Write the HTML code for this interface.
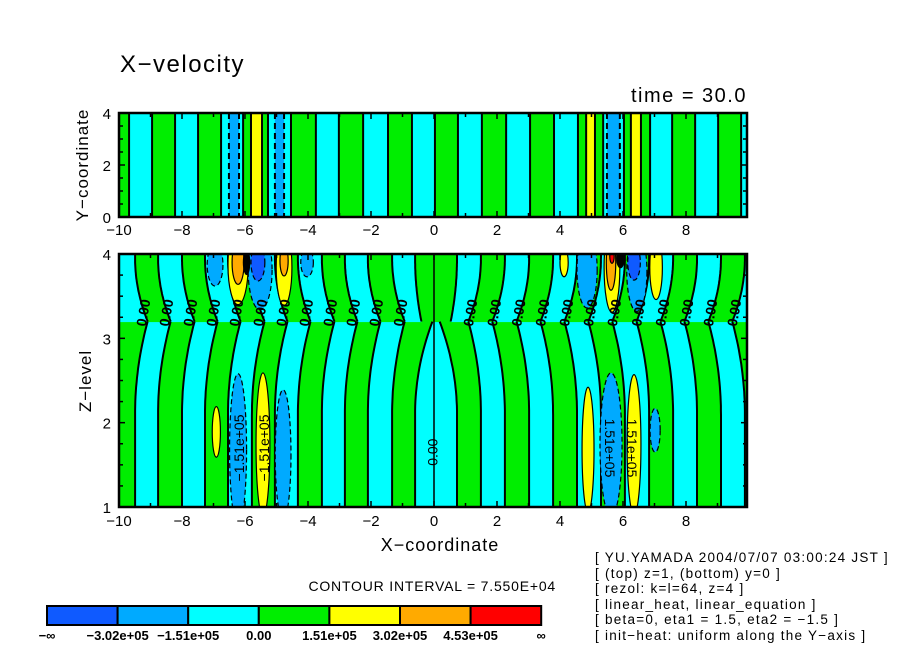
<!DOCTYPE html>
<html><head><meta charset="utf-8"><style>
html,body{margin:0;padding:0;background:#fff;}
svg{display:block;font-family:"Liberation Sans",sans-serif;}
</style></head><body>
<svg id="chart" width="904" height="654" viewBox="0 0 904 654" xmlns="http://www.w3.org/2000/svg">
<defs>
<clipPath id="clipTop"><rect x="119" y="113" width="628" height="104"/></clipPath>
<clipPath id="clipBot"><rect x="119" y="254" width="628" height="253"/></clipPath>
</defs>
<rect x="0" y="0" width="904" height="654" fill="#fff"/>
<text x="120" y="72" font-size="24" letter-spacing="1.5">X−velocity</text>
<text x="747" y="102" font-size="20" letter-spacing="1.5" text-anchor="end">time = 30.0</text>
<g id="topFill" clip-path="url(#clipTop)"></g>
<g id="botFill" clip-path="url(#clipBot)"></g>
<g id="axes"></g>
<text transform="translate(88,165) rotate(-90)" font-size="17" letter-spacing="1" text-anchor="middle">Y−coordinate</text>
<text transform="translate(91,381) rotate(-90)" font-size="17" letter-spacing="1" text-anchor="middle">Z−level</text>
<text x="440" y="551" font-size="18" letter-spacing="1" text-anchor="middle">X−coordinate</text>
<text x="556" y="591" font-size="14" letter-spacing="0.8" text-anchor="end">CONTOUR INTERVAL = 7.550E+04</text>
<g id="legend"></g>
<g font-size="13.5" letter-spacing="1.25">
<text x="595" y="562">[ YU.YAMADA 2004/07/07 03:00:24 JST ]</text>
<text x="595" y="578">[ (top) z=1, (bottom) y=0 ]</text>
<text x="595" y="593">[ rezol: k=l=64, z=4 ]</text>
<text x="595" y="609">[ linear_heat, linear_equation ]</text>
<text x="595" y="624">[ beta=0, eta1 = 1.5, eta2 = −1.5 ]</text>
<text x="595" y="640">[ init−heat: uniform along the Y−axis ]</text>
</g>
</svg>
<script>
// ---- data ----
const levelColors = ["#0f5aff","#00aaff","#00ffff","#00ee00","#ffff00","#ffaa00","#ff0000"];
const legendLabels = ["−∞","−3.02e+05","−1.51e+05","0.00","1.51e+05","3.02e+05","4.53e+05","∞"];
const topEdges = [-10.0,-9.68,-8.95,-8.22,-7.49,-6.76,-6.51,-6.19,-6.06,-5.81,-5.46,-5.27,-5.05,-4.76,-4.54,-3.75,-3.02,-2.25,-1.46,-0.70,0.03,0.76,1.52,2.29,3.05,3.81,4.57,4.83,5.11,5.37,5.49,5.90,6.03,6.25,6.57,6.86,7.56,8.29,9.02,9.75,9.97];
const topLevels = [3,2,3,2,3,2,1,2,3,4,3,2,1,2,3,2,3,2,3,2,3,2,3,2,3,2,3,4,3,2,1,2,3,4,3,2,3,2,3,2];
const botEdges = [-10,-9.49,-8.76,-8.00,-7.27,-6.54,-5.78,-5.05,-4.32,-3.56,-2.83,-2.10,-1.33,-0.60,0.73,1.49,2.25,3.02,3.78,4.54,5.30,6.06,6.83,7.59,8.35,9.11,9.87,9.97];
const botUpperLevels = [2,3,2,3,2,3,2,3,2,3,2,3,2,3,2,3,2,3,2,3,2,3,2,3,2,3,2];
const blobX = [-6.95,-6.22,-6.22,-5.52,-5.59,-4.76,-4.76,-4.03,-6.91,-6.22,-5.43,-4.79, 4.13,4.86,5.65,5.62,5.65,6.44,6.35,7.05, 4.89,5.62,6.35,7.02,-5.95,5.92];
const blobZ = [3.87,3.87,3.90,3.81,3.90,3.84,3.92,3.90,1.89,1.68,1.74,1.62, 3.90,3.81,3.84,3.90,3.97,3.79,3.90,3.84, 1.68,1.74,1.74,1.91,3.9,3.95];
const blobRX = [0.25,0.32,0.19,0.38,0.22,0.25,0.13,0.20,0.13,0.27,0.22,0.25, 0.13,0.32,0.25,0.15,0.07,0.32,0.20,0.20, 0.19,0.35,0.22,0.16,0.12,0.14];
const blobRZ = [0.25,0.47,0.26,0.47,0.22,0.45,0.18,0.17,0.30,0.90,0.85,0.77, 0.17,0.45,0.53,0.33,0.08,0.47,0.21,0.38, 0.74,0.85,0.83,0.26,0.15,0.12];
const blobLevel = [1,4,5,1,0,4,5,1,4,1,4,1, 4,1,4,5,6,1,0,4, 4,1,4,1,-1,-1];
const zeroLabelZ = 3.3;
const xTicks = [-10,-8,-6,-4,-2,0,2,4,6,8];
const yTicksTop = [0,2,4];
const zTicks = [1,2,3,4];
const valueLabels = ["−1.51e+05","−1.51e+05","1.51e+05","1.51e+05"];
const valueLabelX = [-6.15,-5.35,5.55,6.25];
const valueLabelZ = [1.7,1.7,1.7,1.7];

// ---- scales ----
const NS="http://www.w3.org/2000/svg";
const xs = u => 119 + (u + 10) * 31.5;
const ysTop = y => 217 - y * 26;
const zs = z => 507 - (z - 1) * 84.33;
function mk(tag, attrs, parent){const e=document.createElementNS(NS,tag);for(const k in attrs)e.setAttribute(k,attrs[k]);parent.appendChild(e);return e;}

// ---- top panel ----
const topG=document.getElementById('topFill');
for(let i=0;i<topLevels.length;i++){
  const r=mk('rect',{x:xs(topEdges[i]),y:113,width:xs(topEdges[i+1])-xs(topEdges[i])+0.5,height:104,fill:levelColors[topLevels[i]]},topG);
  
  
}
for(let i=1;i<topEdges.length-1;i++){
  const neg = topLevels[i-1]<=2 && topLevels[i]<=2;
  const l=mk('line',{x1:xs(topEdges[i]),x2:xs(topEdges[i]),y1:113,y2:217,stroke:'#000','stroke-width':2,'stroke-dasharray':neg?'6,4':'none'},topG);
  
  
}

// ---- bottom panel ----
const botG=document.getElementById('botFill');
const zk=3.2;
function off(x0,z){
  if(x0<=-9.99||x0>=9.96) return 0;
  const lower = z<zk;
  const A = Math.abs(x0)<1 ? (lower?0.55:0.2) : 0.4;
  const W = lower?1.1:0.75;
  const t = Math.max(0,1-Math.abs(z-zk)/W);
  return -Math.sign(x0)*A*t*t;
}
const dz=0.02;
for(let z=1;z<4;z+=dz){
  const zc=z+dz/2, lower=zc<zk;
  for(let i=0;i<botUpperLevels.length;i++){
    const xa=xs(botEdges[i]+off(botEdges[i],zc)), xb=xs(botEdges[i+1]+off(botEdges[i+1],zc));
    const lv = lower ? (botUpperLevels[i]===2?3:2) : botUpperLevels[i];
    const r=mk('rect',{x:xa.toFixed(1),y:zs(z+dz).toFixed(1),width:(xb-xa+0.6).toFixed(1),height:(dz*84.33+0.6).toFixed(2),fill:levelColors[lv]},botG);
    
    
  }
}
function edgePath(i,z0,z1){
  let d='';const n=40;
  for(let k=0;k<=n;k++){const z=z0+(z1-z0)*k/n;d+=(k?'L':'M')+xs(botEdges[i]+off(botEdges[i],z)).toFixed(1)+','+zs(z).toFixed(1);}
  return d;
}
for(let i=1;i<botEdges.length-1;i++){
  const a=mk('path',{d:edgePath(i,zk,4.02),fill:'none',stroke:'#000','stroke-width':2},botG);
  
  
  const b=mk('path',{d:edgePath(i,0.98,zk-0.001),fill:'none',stroke:'#000','stroke-width':2},botG);
  
  
}
const cz=mk('line',{x1:xs(0),x2:xs(0),y1:254,y2:507,stroke:'#000','stroke-width':1.5},botG);


for(let i=0;i<blobX.length;i++){
  const lv=blobLevel[i];
  const e=mk('ellipse',{cx:xs(blobX[i]),cy:zs(blobZ[i]),rx:blobRX[i]*31.5,ry:blobRZ[i]*84.33,
    fill: lv<0?'#000':levelColors[lv], stroke:'#000','stroke-width':lv<0?0:1.2,'stroke-dasharray':(lv>=0&&lv<=1)?'5,3':'none'},botG);
  
  
}
for(let i=1;i<botEdges.length-1;i++){
  if(i===13||i===14) continue;
  const x=xs(botEdges[i]+off(botEdges[i],zeroLabelZ));
  const t=mk('text',{transform:`translate(${x.toFixed(1)},${zs(zeroLabelZ).toFixed(1)}) rotate(-80)`,'font-size':14,'font-weight':'bold','text-anchor':'middle','dominant-baseline':'middle'},botG);
  t.textContent='0.00';
  
  
}
const cl=mk('text',{transform:`translate(${xs(0)},${zs(1.65)}) rotate(-90)`,'font-size':14,'text-anchor':'middle','dominant-baseline':'middle'},botG);
cl.textContent='0.00';


for(let i=0;i<valueLabels.length;i++){
  const t=mk('text',{transform:`translate(${xs(valueLabelX[i])},${zs(valueLabelZ[i])}) rotate(${valueLabelX[i]<0?-90:90})`,'font-size':14,'text-anchor':'middle','dominant-baseline':'middle'},botG);
  t.textContent=valueLabels[i];
  
  
}

// ---- axes ----
const ax=document.getElementById('axes');
function frame(y0,y1,name){
  const r=mk('rect',{x:119,y:y0,width:628,height:y1-y0,fill:'none',stroke:'#000','stroke-width':2.5},ax);
  
  
}
frame(113,217,'top-panel-frame');
frame(254,507,'bottom-panel-frame');
function tick(x1,y1,x2,y2){const l=mk('line',{x1,y1,x2,y2,stroke:'#000','stroke-width':1.5},ax);}
for(let u=-10;u<=9.9;u+=1){
  const len = (Math.round(u)%2===0)?6:4;
  const x=xs(u);
  tick(x,217,x,217-len);tick(x,113,x,113+len);
  tick(x,507,x,507-len);tick(x,254,x,254+len);
}
for(let y=0;y<=4.001;y+=0.5){const yy=ysTop(y);const len=(y%2===0)?6:4;tick(119,yy,119+len,yy);tick(747,yy,747-len,yy);}
for(let z=1;z<=4.001;z+=0.25){const yy=zs(z);const len=(Math.abs(z-Math.round(z))<0.01)?6:4;tick(119,yy,119+len,yy);tick(747,yy,747-len,yy);}
xTicks.forEach(v=>{
  const lbl=v<0?'−'+Math.abs(v):String(v);
  const a=mk('text',{x:xs(v),y:235,'font-size':15,'text-anchor':'middle'},ax);a.textContent=lbl;
  
  
  const b=mk('text',{x:xs(v),y:526,'font-size':15,'text-anchor':'middle'},ax);b.textContent=lbl;
  
  
});
yTicksTop.forEach(v=>{
  const t=mk('text',{x:111,y:ysTop(v)+6,'font-size':15,'text-anchor':'end'},ax);t.textContent=String(v);
  
  
});
zTicks.forEach(v=>{
  const t=mk('text',{x:111,y:zs(v)+6,'font-size':15,'text-anchor':'end'},ax);t.textContent=String(v);
  
  
});

// ---- legend ----
const lg=document.getElementById('legend');
const lx0=47,lw=70.6;
for(let i=0;i<levelColors.length;i++){
  const r=mk('rect',{x:lx0+i*lw,y:606,width:lw,height:19,fill:levelColors[i],stroke:'#000','stroke-width':2},lg);
  
  
}
for(let i=0;i<legendLabels.length;i++){
  const t=mk('text',{x:lx0+i*lw,y:640,'font-size':13,'text-anchor':'middle','font-weight':'bold'},lg);
  t.textContent=legendLabels[i];
  
  
}
</script>
</body></html>
